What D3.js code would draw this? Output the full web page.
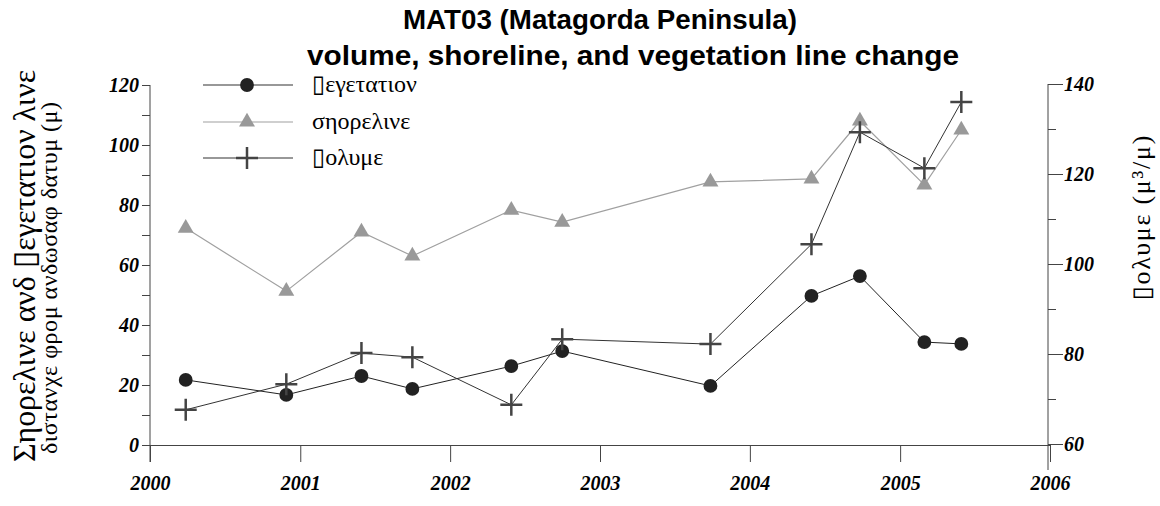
<!DOCTYPE html>
<html>
<head>
<meta charset="utf-8">
<script src="https://cdn.jsdelivr.net/npm/d3@7"></script>
<style>
  html, body { margin: 0; padding: 0; background: #fff; }
  svg { display: block; }
</style>
</head>
<body>
<svg id="chart" width="1160" height="506"></svg>
<script>
// ---- data ----
const surveyDates = ["2000-03-28", "2000-11-28", "2001-05-30", "2001-10-01", "2002-05-30",
                     "2002-10-01", "2003-09-27", "2004-05-30", "2004-09-25", "2005-03-01", "2005-05-30"];
const vegetationLine = [21.7, 16.7, 23.0, 18.7, 26.3, 31.3, 19.7, 49.7, 56.3, 34.3, 33.7];
const shorelineLine = [72.3, 51.3, 71.0, 63.0, 78.3, 74.3, 87.7, 88.7, 108.0, 86.7, 105.0];
const volumeValues = [67.6, 73.3, 80.2, 79.3, 68.7, 83.3, 82.2, 104.4, 129.3, 121.3, 136.0];
const xTickLabels = ["2000", "2001", "2002", "2003", "2004", "2005", "2006"];
const leftTicks = [0, 20, 40, 60, 80, 100, 120];
const rightTicks = [60, 80, 100, 120, 140];
const seriesNames = ["\u25AF\u03B5\u03B3\u03B5\u03C4\u03B1\u03C4\u03B9\u03BF\u03BD",
                     "\u03C3\u03B7\u03BF\u03C1\u03B5\u03BB\u03B9\u03BD\u03B5",
                     "\u25AF\u03BF\u03BB\u03C5\u03BC\u03B5"];
const titleLines = ["MAT03 (Matagorda Peninsula)", "volume, shoreline, and vegetation line change"];
const leftTitleLines = ["\u03A3\u03B7\u03BF\u03C1\u03B5\u03BB\u03B9\u03BD\u03B5 \u03B1\u03BD\u03B4 \u25AF\u03B5\u03B3\u03B5\u03C4\u03B1\u03C4\u03B9\u03BF\u03BD \u03BB\u03B9\u03BD\u03B5",
                        "\u03B4\u03B9\u03C3\u03C4\u03B1\u03BD\u03C7\u03B5 \u03C6\u03C1\u03BF\u03BC \u03B1\u03BD\u03B4\u03C9\u03C3\u03B1\u03C6 \u03B4\u03B1\u03C4\u03C5\u03BC (\u03BC)"];
const rightTitle = "\u25AF\u03BF\u03BB\u03C5\u03BC\u03B5 (\u03BC\u00B3/\u03BC)";

// ---- layout ----
const svg = d3.select("#chart");
const X0 = 150, X1 = 1050, YB = 445, YT = 85;
const parse = d3.timeParse("%Y-%m-%d");
const dates = surveyDates.map(parse);

const x = d3.scaleTime()
  .domain([new Date(+xTickLabels[0], 0, 1), new Date(+xTickLabels[xTickLabels.length - 1], 0, 1)])
  .range([X0, X1]);
const yL = d3.scaleLinear().domain([0, 120]).range([YB, YT]);
const yR = d3.scaleLinear().domain([60, 140]).range([YB - 1, YT - 1]);

const serif = "'Liberation Serif', 'DejaVu Serif', serif";
const sans = "'Liberation Sans', Arial, sans-serif";

// title
svg.append("text").attr("x", 600).attr("y", 29).attr("text-anchor", "middle")
  .attr("textLength", 394).attr("lengthAdjust", "spacingAndGlyphs")
  .style("font", `bold 27px ${sans}`).text(titleLines[0]);
svg.append("text").attr("x", 633).attr("y", 65).attr("text-anchor", "middle")
  .attr("textLength", 652).attr("lengthAdjust", "spacingAndGlyphs")
  .style("font", `bold 27px ${sans}`).text(titleLines[1]);

// x axis
const xTickDates = xTickLabels.map(v => new Date(+v, 0, 1));
const gx = svg.append("g").attr("transform", `translate(0,${YB})`)
  .call(d3.axisBottom(x).tickValues(xTickDates).tickSize(17).tickSizeOuter(0)
    .tickFormat((d, i) => xTickLabels[i]));
gx.selectAll("text").style("font", `italic bold 20px ${serif}`).attr("dy", "1.25em");

// left axis
const gl = svg.append("g").attr("transform", `translate(${X0},0)`)
  .call(d3.axisLeft(yL).tickValues(d3.range(0, 121, 10)).tickSize(8).tickSizeOuter(0)
    .tickFormat(d => leftTicks.includes(d) ? d : ""));
gl.selectAll("text").style("font", `italic bold 20px ${serif}`);
gl.select(".domain").attr("d", `M0,${YT}V${YB + 17}`);

// right axis
const gr = svg.append("g").attr("transform", `translate(${X1 - 2},0)`)
  .call(d3.axisRight(yR).tickValues(d3.range(60, 141, 10)).tickSizeOuter(0)
    .tickSize(0).tickFormat(d => rightTicks.includes(d) ? d : ""));
gr.selectAll(".tick line").attr("x2", d => rightTicks.includes(d) ? 15 : 8);
gr.selectAll("text").attr("x", 16).style("font", `italic bold 20px ${serif}`);
gr.select(".domain").attr("d", `M0,${YT - 1}V${YB + 25}`);

svg.selectAll(".domain, .tick line").attr("stroke", "#444");

// axis titles
svg.append("text").attr("transform", `translate(35,266) rotate(-90)`).attr("text-anchor", "middle")
  .attr("textLength", 392).attr("lengthAdjust", "spacingAndGlyphs")
  .style("font", `32px ${serif}`).text(leftTitleLines[0]);
svg.append("text").attr("transform", `translate(57,278) rotate(-90)`).attr("text-anchor", "middle")
  .attr("textLength", 352).attr("lengthAdjust", "spacing")
  .style("font", `24px ${serif}`).text(leftTitleLines[1]);
svg.append("text").attr("transform", `translate(1150,218) rotate(-90)`).attr("text-anchor", "middle")
  .attr("textLength", 165).attr("lengthAdjust", "spacing")
  .style("font", `26px ${serif}`).text(rightTitle);

// series
const lineL = d3.line().x((d, i) => x(dates[i])).y(d => yL(d));
const lineR = d3.line().x((d, i) => x(dates[i])).y(d => yR(d));

svg.append("path").datum(shorelineLine).attr("d", lineL).attr("fill", "none").attr("stroke", "#a0a0a0").attr("stroke-width", 1.2);
svg.append("path").datum(vegetationLine).attr("d", lineL).attr("fill", "none").attr("stroke", "#222").attr("stroke-width", 1);
svg.append("path").datum(volumeValues).attr("d", lineR).attr("fill", "none").attr("stroke", "#333").attr("stroke-width", 1);

const tri = d3.symbol().type(d3.symbolTriangle).size(110);
const circle = d3.symbol().type(d3.symbolCircle).size(150);

svg.append("g").selectAll("path").data(shorelineLine).join("path")
  .attr("transform", (d, i) => `translate(${x(dates[i])},${yL(d)})`)
  .attr("d", tri).attr("fill", "#999");
svg.append("g").selectAll("path").data(vegetationLine).join("path")
  .attr("transform", (d, i) => `translate(${x(dates[i])},${yL(d)})`)
  .attr("d", circle).attr("fill", "#222");
const plus = (sel, cx, cy) => {
  sel.append("path").attr("d", `M${cx - 11},${cy}H${cx + 11}M${cx},${cy - 11}V${cy + 11}`)
    .attr("stroke", "#444").attr("stroke-width", 2.5).attr("fill", "none");
};
const gv = svg.append("g");
volumeValues.forEach((d, i) => plus(gv, x(dates[i]), yR(d)));

// legend
const legY = [85, 122, 158];
const leg = svg.append("g");
seriesNames.forEach((name, i) => {
  const y = legY[i];
  leg.append("line").attr("x1", 203).attr("x2", 293).attr("y1", y).attr("y2", y)
    .attr("stroke", i === 1 ? "#a0a0a0" : "#333").attr("stroke-width", 1.2);
  if (i === 0) leg.append("path").attr("transform", `translate(247,${y})`).attr("d", circle).attr("fill", "#222");
  if (i === 1) leg.append("path").attr("transform", `translate(247,${y})`).attr("d", tri).attr("fill", "#999");
  if (i === 2) plus(leg, 247, y);
  leg.append("text").attr("x", 312).attr("y", y + 7).style("font", `24px ${serif}`).text(name);
});
</script>
</body>
</html>
